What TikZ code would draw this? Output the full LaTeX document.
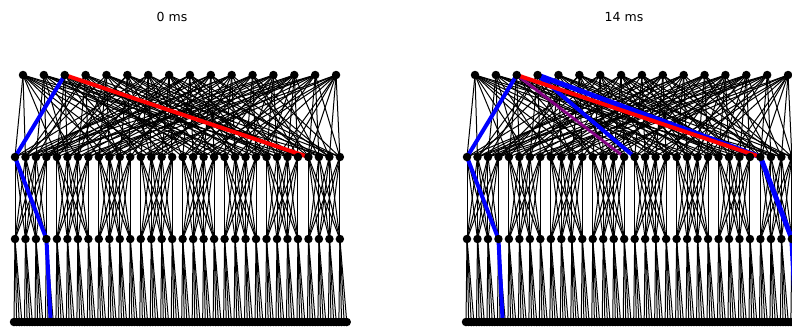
\documentclass[tikz,border=0pt]{standalone}
\usepackage{fontspec}
\setmainfont{DejaVu Sans}
\pgfdeclarelayer{edges}
\pgfdeclarelayer{paths}
\pgfsetlayers{edges,paths,main}
\definecolor{pathpurple}{RGB}{150,0,150}
\tikzset{
  unit/.style={circle,fill=black,inner sep=0pt,minimum size=8.5pt},
  link/.style={black,line width=1pt},
  hotblue/.style={blue,line width=4pt,line cap=round},
  hotred/.style={red,line width=4pt,line cap=round},
  hotpurple/.style={pathpurple,line width=3pt,opacity=0.85},
  caption/.style={font=\fontsize{12.5}{14}\selectfont,inner sep=0pt}
}
% input layer (16 units) -> first hidden layer (32 units)
\newcommand\netTopLinks{0/{0,1,6,11,17,22,27,4,9,14},1/{2,3,8,13,19,24,30,20,5,26},2/{4,5,0,15,28,10,21,25,12,18},3/{6,7,16,28,12,23,2,10,1,20},4/{8,9,1,18,25,30,14,22,6,27},5/{10,11,4,20,27,15,3,31,13,24},6/{12,13,7,22,29,0,18,3,16,26},7/{14,15,2,24,31,9,19,27,5,21},8/{16,17,5,26,11,1,29,21,3,23},9/{18,19,3,28,13,8,24,0,10,30},10/{20,21,6,30,14,2,9,25,1,17},11/{22,23,10,31,4,16,27,7,13,28},12/{24,25,12,17,5,29,1,19,8,22},13/{26,27,11,20,7,3,16,30,14,24},14/{28,29,13,23,8,6,21,18,2,31},15/{30,31,17,25,19,12,26,9,22,28}}
% one network: #1 = name prefix, #2 = horizontal offset
\newcommand\drawNetwork[2]{%
  \begin{scope}[xshift=#2pt]
    \foreach \i in {0,...,15}
      \node[unit] (#1t\i) at ({23+20.87*\i},75) {};
    \foreach \j in {0,...,31} {
      \node[unit] (#1m\j) at ({15+10.48*\j},157) {};
      \node[unit] (#1h\j) at ({15+10.48*\j},239) {};
    }
    \foreach \k in {0,...,127}
      \node[unit] (#1b\k) at ({14+2.62*\k},322) {};
  \end{scope}
  \begin{pgfonlayer}{edges}
    \foreach \i/\targets in \netTopLinks
      \foreach \j in \targets
        \draw[link] (#1t\i.center) -- (#1m\j.center);
    % blocks of four, fully connected
    \foreach \g in {0,...,7}
      \foreach \a in {0,...,3}
        \foreach \c in {0,...,3} {
          \pgfmathtruncatemacro\p{4*\g+\a}
          \pgfmathtruncatemacro\q{4*\g+\c}
          \draw[link] (#1m\p.center) -- (#1h\q.center);
        }
    % each unit fans out to four output units
    \foreach \j in {0,...,31}
      \foreach \c in {0,...,3} {
        \pgfmathtruncatemacro\q{4*\j+\c}
        \draw[link] (#1h\j.center) -- (#1b\q.center);
      }
  \end{pgfonlayer}
}
\begin{document}
\begin{tikzpicture}[x=1pt,y=-1pt]
  \useasboundingbox (0,0) rectangle (792,330);
  \clip (0,0) rectangle (792,330);
  \node[caption] (titleA) at (172,17) {0 ms};
  \node[caption] (titleB) at (624,17) {14 ms};
  \drawNetwork{A}{0}
  \drawNetwork{B}{452}
  % purple trace sits beneath the black connections
  \begin{pgfonlayer}{edges}
    \draw[hotpurple] (Bt2.center) -- (Bm15.center);
  \end{pgfonlayer}
  \begin{pgfonlayer}{paths}
    % left network
    \draw[hotblue] (At2.center) -- (Am0.center) -- (Ah3.center) -- (Ab14.center);
    \draw[hotred] (At2.center) -- (Am28.center);
    % right network
    \draw[hotblue] (Bt2.center) -- (Bm0.center) -- (Bh3.center) -- (Bb14.center);
    \draw[hotblue] (Bt3.center) -- (Bm16.center);
    \draw[hotblue,line width=5pt] (Bt3.center) -- (Bm28.center) -- (Bh31.center) -- (Bb126.center);
    \draw[hotred] (Bt2.center) -- (Bm28.center);
  \end{pgfonlayer}
\end{tikzpicture}
\end{document}
